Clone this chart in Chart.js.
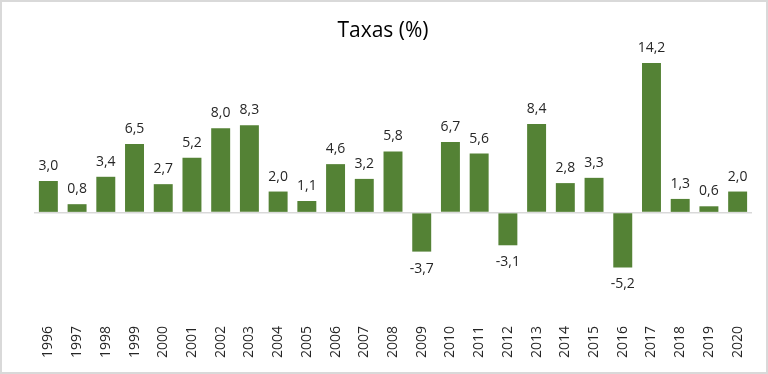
<!DOCTYPE html>
<html lang="pt">
<head>
    <meta charset="UTF-8">
    <title>Taxas (%)</title>
    <style>
        body { margin: 0; background: #fff; }
        .wrap { position: relative; width: 768px; height: 374px; }
    </style>
</head>
<body>
    <div class="wrap">
        <canvas id="chart" width="768" height="374"></canvas>
    </div>

    <script src="https://cdn.jsdelivr.net/npm/chart.js@4.4.1/dist/chart.umd.min.js"></script>
    <script>
        // Dados
        const anos = ['1996','1997','1998','1999','2000','2001','2002','2003','2004','2005','2006','2007','2008',
                      '2009','2010','2011','2012','2013','2014','2015','2016','2017','2018','2019','2020'];
        const taxas = [3.0, 0.8, 3.4, 6.5, 2.7, 5.2, 8.0, 8.3, 2.0, 1.1, 4.6, 3.2, 5.8,
                       -3.7, 6.7, 5.6, -3.1, 8.4, 2.8, 3.3, -5.2, 14.2, 1.3, 0.6, 2.0];
        const titulo = 'Taxas (%)';

        const verde = '#548235';
        const fonte = '"Open Sans", sans-serif';

        // moldura cinza + título centrado no gráfico inteiro
        const moldura = {
            id: 'moldura',
            afterDraw(chart) {
                const c = chart.ctx;
                c.save();
                c.strokeStyle = '#d9d9d9';
                c.lineWidth = 2;
                c.strokeRect(1, 1, chart.width - 2, chart.height - 2);
                c.fillStyle = '#000';
                c.font = '21px ' + fonte;
                c.textAlign = 'center';
                c.textBaseline = 'middle';
                c.fillText(titulo, 383, 31);
                c.restore();
            }
        };

        // rótulos dos valores (formato pt: vírgula)
        const rotulos = {
            id: 'rotulos',
            afterDatasetsDraw(chart) {
                const c = chart.ctx;
                const meta = chart.getDatasetMeta(0);
                c.save();
                c.font = '14px ' + fonte;
                c.fillStyle = '#262626';
                c.textAlign = 'center';
                meta.data.forEach((bar, i) => {
                    const v = taxas[i];
                    const txt = v.toFixed(1).replace('.', ',');
                    if (v >= 0) {
                        c.textBaseline = 'bottom';
                        c.fillText(txt, bar.x, bar.y - 8);
                    } else {
                        c.textBaseline = 'top';
                        c.fillText(txt, bar.x, bar.y + 10);
                    }
                });
                c.restore();
            }
        };

        new Chart(document.getElementById('chart'), {
            type: 'bar',
            data: {
                labels: anos,
                datasets: [{
                    data: taxas,
                    backgroundColor: verde,
                    categoryPercentage: 0.66,
                    barPercentage: 1
                }]
            },
            options: {
                responsive: false,
                animation: false,
                layout: { padding: { left: 34, right: 16, top: 44, bottom: 0 } },
                plugins: {
                    legend: { display: false },
                    tooltip: { enabled: false },
                    title: { display: false }
                },
                scales: {
                    x: {
                        grid: { display: false },
                        border: { display: false },
                        ticks: {
                            color: '#262626',
                            font: { family: fonte, size: 14 },
                            minRotation: 90,
                            maxRotation: 90,
                            padding: 0
                        },
                        afterFit(s) { s.height = 56; }
                    },
                    y: {
                        min: -10,
                        max: 16,
                        ticks: { display: false, stepSize: 2 },
                        border: { display: false },
                        grid: {
                            drawTicks: false,
                            lineWidth: 1.5,
                            color: ctx => ctx.tick.value === 0 ? '#d9d9d9' : 'rgba(0,0,0,0)'
                        },
                        afterFit(s) { s.width = 0; }
                    }
                }
            },
            plugins: [moldura, rotulos]
        });
    </script>
</body>
</html>
